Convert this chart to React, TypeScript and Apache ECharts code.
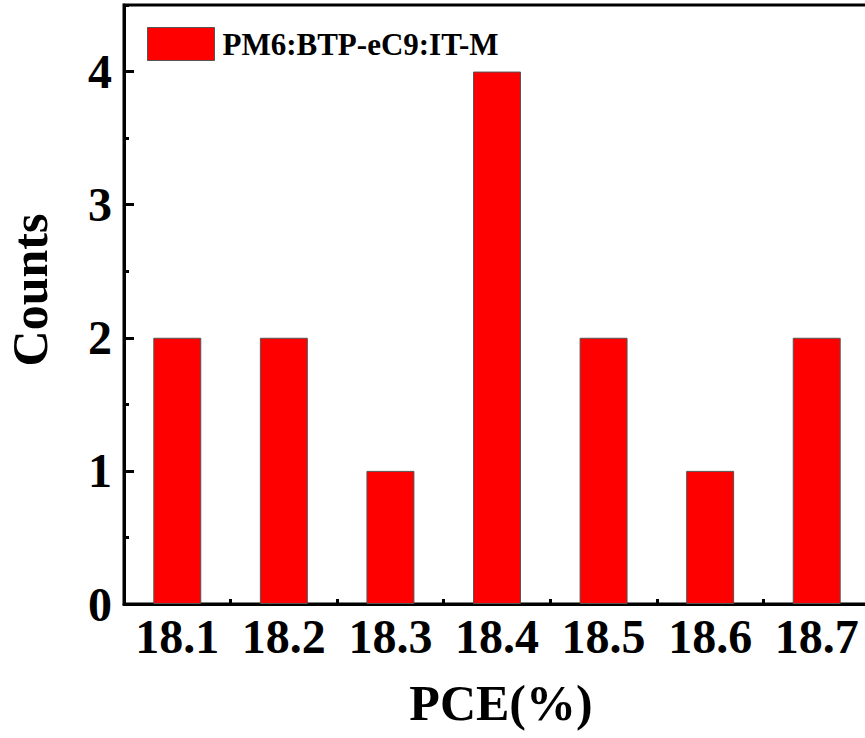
import React, { useEffect, useRef } from "react";
import * as echarts from "echarts";

const categories = ["18.1", "18.2", "18.3", "18.4", "18.5", "18.6", "18.7"];
const counts = [2, 2, 1, 4, 2, 1, 2];
const seriesName = "PM6:BTP-eC9:IT-M";
const xTitle = "PCE(%)";
const yTitle = "Counts";

const FONT = "'Liberation Serif', 'Times New Roman', serif";

export default function App() {
  const ref = useRef<HTMLDivElement>(null);
  useEffect(() => {
    if (!ref.current) return;
    const chart = echarts.init(ref.current, undefined, { renderer: "svg" });
    chart.setOption({
      animation: false,
      backgroundColor: "#ffffff",
      grid: {
        left: 124,
        top: 5,
        width: 746,
        height: 599,
        show: true,
        borderColor: "#000",
        borderWidth: 3,
        containLabel: false,
        outerBoundsMode: "none",
      },
      legend: {
        show: true,
        left: 142,
        top: 22,
        icon: "rect",
        itemWidth: 67,
        itemHeight: 33,
        itemGap: 8,
        textStyle: {
          fontFamily: FONT,
          fontWeight: "bold",
          fontSize: 31,
          color: "#000",
          padding: [0, 0, 0, 3],
        },
        data: [{ name: seriesName, icon: "rect", itemStyle: { color: "#ff0000", borderColor: "#555", borderWidth: 1 } }],
      },
      xAxis: [
        {
          type: "category",
          data: categories,
          boundaryGap: true,
          axisLine: { show: true, lineStyle: { color: "#000", width: 3 } },
          axisTick: { show: true, inside: true, alignWithLabel: true, length: 10, lineStyle: { color: "#000", width: 3 } },
          axisLabel: {
            interval: 0,
            margin: 8,
            fontFamily: FONT,
            fontWeight: "bold",
            fontSize: 48,
            color: "#000",
          },
          splitLine: { show: false },
        },
        {
          type: "category",
          data: categories,
          position: "bottom",
          boundaryGap: true,
          axisLine: { show: false },
          axisTick: { show: true, inside: true, alignWithLabel: false, length: 5, lineStyle: { color: "#000", width: 3 } },
          axisLabel: { show: false },
          splitLine: { show: false },
        },
      ],
      yAxis: [
        {
          type: "value",
          min: 0,
          max: 4.5,
          interval: 1,
          axisLine: { show: true, lineStyle: { color: "#000", width: 3 } },
          axisTick: { show: true, inside: true, length: 10, lineStyle: { color: "#000", width: 3 } },
          axisLabel: {
            showMaxLabel: false,
            margin: 12,
            fontFamily: FONT,
            fontWeight: "bold",
            fontSize: 48,
            color: "#000",
            formatter: (v: number) => (Number.isInteger(v) ? String(v) : ""),
          },
          splitLine: { show: false },
        },
        {
          type: "value",
          min: 0,
          max: 4.5,
          interval: 0.5,
          position: "left",
          axisLine: { show: false },
          axisTick: { show: true, inside: true, length: 5, lineStyle: { color: "#000", width: 3 } },
          axisLabel: { show: false },
          splitLine: { show: false },
        },
      ],
      series: [
        {
          name: seriesName,
          type: "bar",
          data: counts,
          xAxisIndex: 0,
          yAxisIndex: 0,
          barWidth: "45%",
          itemStyle: { color: "#ff0000", borderColor: "#555", borderWidth: 1 },
        },
      ],
      graphic: [
        {
          type: "text",
          x: 30,
          y: 290,
          rotation: Math.PI / 2,
          style: {
            text: yTitle,
            fontFamily: FONT,
            fontWeight: "bold",
            fontSize: 50,
            fill: "#000",
            align: "center",
            verticalAlign: "middle",
          },
        },
        {
          type: "text",
          x: 501,
          y: 703,
          style: {
            text: xTitle,
            fontFamily: FONT,
            fontWeight: "bold",
            fontSize: 50,
            fill: "#000",
            align: "center",
            verticalAlign: "middle",
          },
        },
      ],
    });
    return () => chart.dispose();
  }, []);
  return <div ref={ref} style={{ width: 865, height: 738, position: "absolute", left: 0, top: 0 }} />;
}
